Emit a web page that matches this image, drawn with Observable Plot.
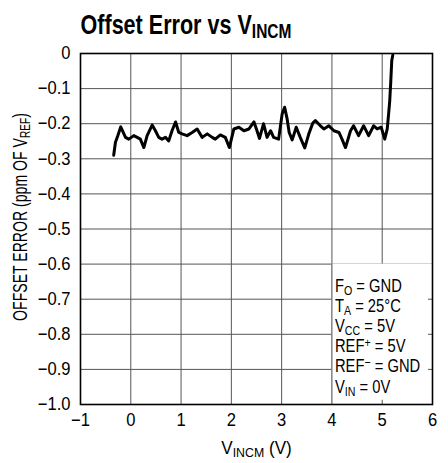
<!DOCTYPE html>
<html>
<head>
<meta charset="utf-8">
<script src="https://cdn.jsdelivr.net/npm/d3@7"></script>
<script src="https://cdn.jsdelivr.net/npm/@observablehq/plot@0.6"></script>
<style>
  html, body { margin: 0; padding: 0; background: white; }
</style>
</head>
<body>
<div id="chart"></div>
<script>
// ---- data ----
const vincm = [-0.34, -0.305, -0.26, -0.2, -0.105, -0.04, 0.06, 0.127, 0.19, 0.26,
  0.325, 0.425, 0.49, 0.556, 0.62, 0.69, 0.755, 0.82, 0.89, 0.955,
  1.02, 1.12, 1.22, 1.32, 1.42, 1.52, 1.62, 1.68, 1.78, 1.88,
  1.96, 2.05, 2.15, 2.25, 2.35, 2.45, 2.51, 2.56, 2.64, 2.71,
  2.78, 2.84, 2.94, 3.01, 3.06, 3.11, 3.15, 3.21, 3.29, 3.37,
  3.46, 3.54, 3.62, 3.67, 3.77, 3.84, 3.94, 4.04, 4.14, 4.20,
  4.27, 4.37, 4.43, 4.53, 4.63, 4.73, 4.83, 4.90, 4.98, 5.05,
  5.10, 5.13, 5.15, 5.17, 5.19, 5.21];
const offsetError = [-0.29, -0.253, -0.235, -0.209, -0.239, -0.244, -0.234, -0.239, -0.244, -0.268,
  -0.234, -0.204, -0.22, -0.239, -0.244, -0.239, -0.249, -0.22, -0.195, -0.225,
  -0.229, -0.234, -0.225, -0.215, -0.239, -0.229, -0.239, -0.244, -0.232, -0.239,
  -0.268, -0.215, -0.21, -0.22, -0.215, -0.195, -0.22, -0.242, -0.2, -0.239,
  -0.22, -0.239, -0.244, -0.172, -0.153, -0.187, -0.225, -0.246, -0.21, -0.239,
  -0.269, -0.229, -0.198, -0.191, -0.206, -0.215, -0.206, -0.22, -0.225, -0.244,
  -0.268, -0.22, -0.206, -0.234, -0.206, -0.234, -0.206, -0.215, -0.21, -0.244,
  -0.215, -0.168, -0.134, -0.08, -0.02, -0.005];

const xTicks = [-1, 0, 1, 2, 3, 4, 5, 6];
const xTickLabels = ["−1", "0", "1", "2", "3", "4", "5", "6"];
const yTicks = [0, -0.1, -0.2, -0.3, -0.4, -0.5, -0.6, -0.7, -0.8, -0.9, -1.0];
const yTickLabels = ["0", "−0.1", "−0.2", "−0.3", "−0.4", "−0.5", "−0.6", "−0.7", "−0.8", "−0.9", "−1.0"];

const titleText = "Offset Error vs V_{INCM}";
const xLabel = "V_{INCM} (V)";
const yLabel = "OFFSET ERROR (ppm OF V_{REF})";
const annotLines = ["F_{O} = GND", "T_{A} = 25°C", "V_{CC} = 5V", "REF^{+} = 5V", "REF^{−} = GND", "V_{IN} = 0V"];
// box behind the conditions text (data units)
const boxX = [4, 6];
const boxY = [-1, -0.6];

const data = vincm.map((x, i) => ({x, y: offsetError[i]}));

const plot = Plot.plot({
  width: 448,
  height: 463,
  marginTop: 53,
  marginRight: 16,
  marginBottom: 59,
  marginLeft: 80,
  style: {fontFamily: "'Liberation Sans', Arial, sans-serif", fontSize: "18px", color: "black", background: "white"},
  x: {domain: [-1, 6]},
  y: {domain: [-1, 0]},
  marks: [
    Plot.ruleX(xTicks, {stroke: "#555", strokeWidth: 1}),
    Plot.ruleY(yTicks, {stroke: "#555", strokeWidth: 1}),
    Plot.rect([0], {x1: boxX[0], x2: boxX[1], y1: boxY[0], y2: boxY[1], fill: "white"}),
    Plot.ruleX([boxX[0]], {y1: boxY[0], y2: boxY[1], stroke: "#555", strokeWidth: 1}),
    Plot.ruleY(yTicks.filter(d => d > boxY[0] && d < boxY[1]), {x1: boxX[1] - 0.08, x2: boxX[1], stroke: "#555"}),
    Plot.ruleX(xTicks.filter(d => d > boxX[0] && d < boxX[1]), {y1: boxY[0], y2: boxY[0] + 0.012, stroke: "#555"}),
    Plot.line(data, {x: "x", y: "y", stroke: "black", strokeWidth: 3, strokeLinejoin: "round", strokeLinecap: "round"}),
    Plot.frame({stroke: "black", strokeWidth: 1.6}),
    Plot.axisX(xTicks, {tickSize: 0, tickPadding: 9, tickFormat: d => xTickLabels[xTicks.indexOf(d)], label: null}),
    Plot.axisY(yTicks, {tickSize: 0, tickPadding: 10, tickFormat: d => yTickLabels[yTicks.indexOf(d)], label: null}),
    Plot.text([annotLines.join("\n")], {x: boxX[0], y: boxY[0], dx: 3, dy: -12, textAnchor: "start", lineAnchor: "bottom", lineHeight: 1.12, fontSize: 18}),
    Plot.text([xLabel], {frameAnchor: "bottom", dy: 44, lineAnchor: "middle"}),
    Plot.text([yLabel], {frameAnchor: "left", dx: -60, dy: -12, rotate: -90, textAnchor: "middle", lineAnchor: "middle", fontSize: 20}),
    Plot.text([titleText], {frameAnchor: "top-left", dy: -20, textAnchor: "start", lineAnchor: "bottom", fontWeight: "bold", fontSize: 27})
  ]
});

document.getElementById("chart").appendChild(plot);

// turn _{..} and ^{..} into real subscript / superscript tspans
const NS = "http://www.w3.org/2000/svg";
function richify(root) {
  const els = Array.from(root.querySelectorAll("text, tspan"));
  els.forEach(el => {
    if (el.children.length) return;
    const s = el.textContent;
    if (!/[_^]\{/.test(s)) return;
    const fs = parseFloat(getComputedStyle(el).fontSize) || 17;
    el.textContent = "";
    const re = /([_^])\{([^}]*)\}/g;
    let last = 0, m, pending = 0;
    const addPlain = str => {
      if (!str) return;
      if (pending) {
        const t = document.createElementNS(NS, "tspan");
        t.setAttribute("dy", -pending);
        t.textContent = str;
        el.appendChild(t);
        pending = 0;
      } else {
        el.appendChild(document.createTextNode(str));
      }
    };
    while ((m = re.exec(s))) {
      addPlain(s.slice(last, m.index));
      const shift = m[1] === "_" ? 0.17 * fs : -0.3 * fs;
      const t = document.createElementNS(NS, "tspan");
      t.setAttribute("font-size", (0.72 * fs).toFixed(1));
      t.setAttribute("dy", shift - pending);
      t.textContent = m[2];
      el.appendChild(t);
      pending = shift;
      last = re.lastIndex;
    }
    addPlain(s.slice(last));
  });
}
richify(plot);

// emulate the condensed typeface of the original by narrowing glyphs horizontally
function condense(el, f) {
  const t = el.getAttribute("transform") || "";
  el.setAttribute("transform", (t + ` scale(${f.toFixed(3)},1)`).trim());
}
plot.querySelectorAll("text").forEach(t => {
  const s = t.textContent;
  if (s.startsWith("Offset Error")) condense(t, 211 / t.getComputedTextLength());
  else if (s.startsWith("OFFSET ERROR")) condense(t, 208 / t.getComputedTextLength());
  else if (s.startsWith("FO")) condense(t, 0.82);
  else if (s.startsWith("VINCM")) condense(t, 0.95);
  else condense(t, 0.92);
});
</script>
</body>
</html>
